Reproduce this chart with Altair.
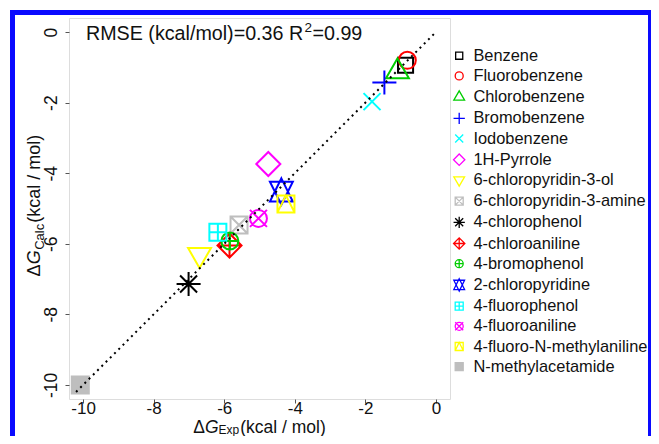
import altair as alt
import pandas as pd

# ---- data ----
names = ["Benzene", "Fluorobenzene", "Chlorobenzene", "Bromobenzene", "Iodobenzene",
         "1H-Pyrrole", "6-chloropyridin-3-ol", "6-chloropyridin-3-amine", "4-chlorophenol",
         "4-chloroaniline", "4-bromophenol", "2-chloropyridine", "4-fluorophenol",
         "4-fluoroaniline", "4-fluoro-N-methylaniline", "N-methylacetamide"]
dg_exp = [-0.86, -0.81, -1.09, -1.46, -1.81, -4.75, -6.70, -5.58, -7.01,
          -5.85, -5.84, -4.38, -6.18, -5.03, -4.25, -10.08]
dg_calc = [-0.94, -0.80, -1.12, -1.43, -1.97, -3.74, -6.31, -5.47, -7.14,
           -6.05, -5.92, -4.52, -5.67, -5.28, -4.87, -10.00]
ticks = [-10, -8, -6, -4, -2, 0]
diag = [-10.2, 0.0]

# ---- styles (R pch symbols, R default palette) ----
colors = ["#000000", "#FF0000", "#00CD00", "#0000FF", "#00FFFF", "#FF00FF", "#FFFF00", "#BEBEBE",
          "#000000", "#FF0000", "#00CD00", "#0000FF", "#00FFFF", "#FF00FF", "#FFFF00", "#BEBEBE"]
fills = ["transparent"] * 15 + ["#BEBEBE"]
CIRC = "M1,0A1,1,0,1,1,-1,0A1,1,0,1,1,1,0Z"
SQ1 = "M-1,-1L1,-1L1,1L-1,1Z"
shapes = [
    "M-0.886,-0.886L0.886,-0.886L0.886,0.886L-0.886,0.886Z",          # 0
    CIRC,                                                              # 1
    "M0,-1.555L1.347,0.778L-1.347,0.778Z",                             # 2
    "M-1.414,0L1.414,0M0,-1.414L0,1.414",                              # 3
    "M-1,-1L1,1M-1,1L1,-1",                                            # 4
    "M0,-1.414L1.414,0L0,1.414L-1.414,0Z",                             # 5
    "M0,1.555L1.347,-0.778L-1.347,-0.778Z",                            # 6
    SQ1 + "M-1,-1L1,1M-1,1L1,-1",                                      # 7
    "M-1,-1L1,1M-1,1L1,-1M-1.414,0L1.414,0M0,-1.414L0,1.414",          # 8
    "M0,-1.414L1.414,0L0,1.414L-1.414,0ZM-1.414,0L1.414,0M0,-1.414L0,1.414",  # 9
    CIRC + "M-1,0L1,0M0,-1L0,1",                                       # 10
    "M0,-1.555L1.347,1.166L-1.347,1.166ZM0,1.555L1.347,-1.166L-1.347,-1.166Z",  # 11
    SQ1 + "M-1,0L1,0M0,-1L0,1",                                        # 12
    CIRC + "M-1,-1L1,1M-1,1L1,-1",                                     # 13
    SQ1 + "M-1,1L0,-1L1,1",                                            # 14
    SQ1,                                                               # 15
]

df = pd.DataFrame({"name": names, "exp": dg_exp, "calc": dg_calc})
line_df = pd.DataFrame({"exp": diag, "calc": diag})
one = pd.DataFrame({"a": [0]})

FONT = "Liberation Sans"
TXT = "#111111"

xs = alt.Scale(domain=[-10.4, 0.4], nice=False, zero=False)
ys = alt.Scale(domain=[-10.4, 0.4], nice=False, zero=False)

x_axis = alt.Axis(values=ticks, title=None, grid=False, domain=False, tickSize=4,
                  tickColor="#555555", labelFontSize=17, labelFont=FONT, labelColor=TXT,
                  labelPadding=-3, labelFlush=False, labelOverlap=False,
                  labelExpr="'' + datum.value")
y_axis = alt.Axis(values=ticks, title=None, grid=False, domain=False, tickSize=4,
                  tickColor="#555555", labelFontSize=17.5, labelFont=FONT, labelColor=TXT,
                  labelAngle=270, labelAlign="center", labelBaseline="alphabetic",
                  labelPadding=9, labelFlush=False, labelOverlap=False,
                  labelExpr="'' + datum.value")

legend = alt.Legend(title=None, orient="none", legendX=382, legendY=29.5, padding=0,
                    symbolSize=64, symbolStrokeWidth=1.3, labelFontSize=16.4,
                    labelFont=FONT, labelColor=TXT, labelOffset=6, rowPadding=3.2,
                    labelLimit=400)

points = alt.Chart(df).mark_point(size=289, strokeWidth=2, opacity=1).encode(
    x=alt.X("exp:Q", scale=xs, axis=x_axis),
    y=alt.Y("calc:Q", scale=ys, axis=y_axis),
    stroke=alt.Stroke("name:N", scale=alt.Scale(domain=names, range=colors), legend=legend),
    fill=alt.Fill("name:N", scale=alt.Scale(domain=names, range=fills), legend=legend),
    shape=alt.Shape("name:N", scale=alt.Scale(domain=names, range=shapes), legend=legend),
)

line = alt.Chart(line_df).mark_line(color="#000000", strokeWidth=2, strokeDash=[2, 4]).encode(
    x=alt.X("exp:Q", scale=xs), y=alt.Y("calc:Q", scale=ys))


def txt(s, x, y, size=18, style="normal", angle=0, align="left"):
    return alt.Chart(one).mark_text(text=s, font=FONT, fontSize=size, fontStyle=style,
                                    color=TXT, align=align, baseline="alphabetic",
                                    angle=angle).encode(x=alt.value(x), y=alt.value(y))


labels = [
    # RMSE annotation
    txt("RMSE (kcal/mol)=0.36 R", 17, 22, size=19.7),
    txt("2", 235.5, 14, size=13.5),
    txt("=0.99", 243.5, 22, size=19.7),
    # x title
    txt("Δ", 124.2, 415, size=17.5), txt("G", 135.9, 415, size=17.5, style="italic"),
    txt("Exp", 149.5, 416, size=12), txt("(kcal / mol)", 171.2, 415, size=17.5),
    # y title
    txt("Δ", -29, 258.6, angle=270), txt("G", -29, 246.2, style="italic", angle=270),
    txt("Calc", -25, 231.8, size=13, angle=270), txt("(kcal / mol)", -29, 204.8, angle=270),
]


def bar(x1, x2, y1, y2):
    return alt.Chart(one).mark_rect(color="#0a0aff").encode(
        x=alt.value(x1), x2=alt.value(x2), y=alt.value(y1), y2=alt.value(y2))


frame = [bar(-59, 582, -8, -3), bar(-59, -54, -8, 430), bar(579, 582, -8, 430)]

chart = alt.layer(points, line, *labels, *frame).properties(
    width=381, height=381,
    padding={"left": 61, "top": 10, "right": 201, "bottom": 37},
    autosize=alt.AutoSizeParams(type="none"),
).configure_view(stroke="#555555", strokeWidth=1.2).configure(background="white")

chart.save("out.html", embed_options={"renderer": "svg", "actions": False})
